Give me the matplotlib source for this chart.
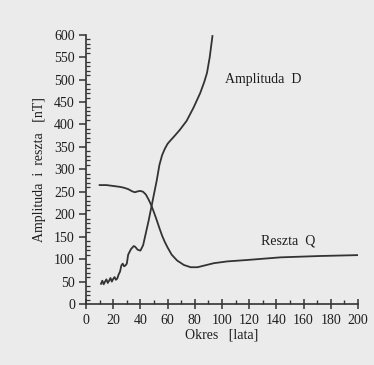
import matplotlib
matplotlib.use("Agg")
import matplotlib.pyplot as plt
from matplotlib.ticker import MultipleLocator

# Amplituda D
d_okres = [11, 12, 13, 14, 15, 16, 17, 18, 19, 20, 21, 22, 23, 24, 25, 26, 27,
           28, 29, 30, 31, 33, 35, 36, 38, 40, 42, 44, 46, 48, 50, 52, 54,
           56, 58, 60, 62, 65, 69, 74, 79, 84, 87, 89, 91, 93]
d_amp = [45, 52, 44, 50, 55, 47, 52, 58, 50, 56, 60, 54, 57, 66, 72, 86, 90,
         84, 86, 90, 110, 122, 129, 128, 121, 119, 131, 158, 185, 215, 245, 275, 310,
         332, 346, 357, 364, 374, 388, 408, 437, 470, 495, 515, 550, 597]

# Reszta Q
q_okres = [10, 15, 20, 25, 28, 31, 34, 36, 38, 40, 42, 44, 46, 48, 50, 52,
           54, 56, 58, 60, 63, 67, 72, 77, 82, 86, 94, 104, 118, 143, 172, 200]
q_res = [265, 265, 263, 261, 259, 256, 251, 249, 251, 252, 250, 244, 233, 220, 204, 187,
         169, 152, 138, 126, 110, 97, 87, 82, 82, 85, 91, 95, 98, 104, 107, 109]

plt.rcParams['font.family'] = ['Liberation Serif', 'DejaVu Serif']
bg = '#ebebeb'
ink = '#333333'
txt = '#1e1e1e'

fig = plt.figure(figsize=(3.74, 3.65), dpi=100, facecolor=bg)
ax = fig.add_axes([0.23, 0.167, 0.727, 0.738], facecolor=bg)

ax.plot(d_okres, d_amp, color=ink, lw=1.3)
ax.plot(q_okres, q_res, color=ink, lw=1.3)

ax.text(130, 500, 'Amplituda  D', ha='center', va='center', fontsize=10, color=txt)
ax.text(149, 141, 'Reszta  Q', ha='center', va='center', fontsize=10, color=txt)

ax.set_xlim(0, 200)
ax.set_ylim(0, 600)
ax.xaxis.set_major_locator(MultipleLocator(20))
ax.xaxis.set_minor_locator(MultipleLocator(10))
ax.yaxis.set_major_locator(MultipleLocator(50))
ax.yaxis.set_minor_locator(MultipleLocator(10))
ax.tick_params(axis='x', which='major', direction='inout', length=7, width=1.1, colors=ink,
               labelsize=10, labelcolor=txt, pad=4)
ax.tick_params(axis='x', which='minor', direction='in', length=3, width=1, colors=ink)
ax.tick_params(axis='y', which='major', direction='out', length=5, width=1.1, colors=ink,
               labelsize=10, labelcolor=txt, pad=3)
ax.tick_params(axis='y', which='minor', direction='in', length=3, width=0.9, colors=ink)

for s in ['top', 'right']:
    ax.spines[s].set_visible(False)
for s in ['left', 'bottom']:
    ax.spines[s].set_color(ink)
    ax.spines[s].set_linewidth(1.2)

ax.set_xlabel('Okres   [lata]', fontsize=10, color=txt, labelpad=1)
ax.set_ylabel('Amplituda  i  reszta   [nT]', fontsize=10, color=txt, labelpad=6)

fig.savefig('out.png', dpi=100, facecolor=bg)
